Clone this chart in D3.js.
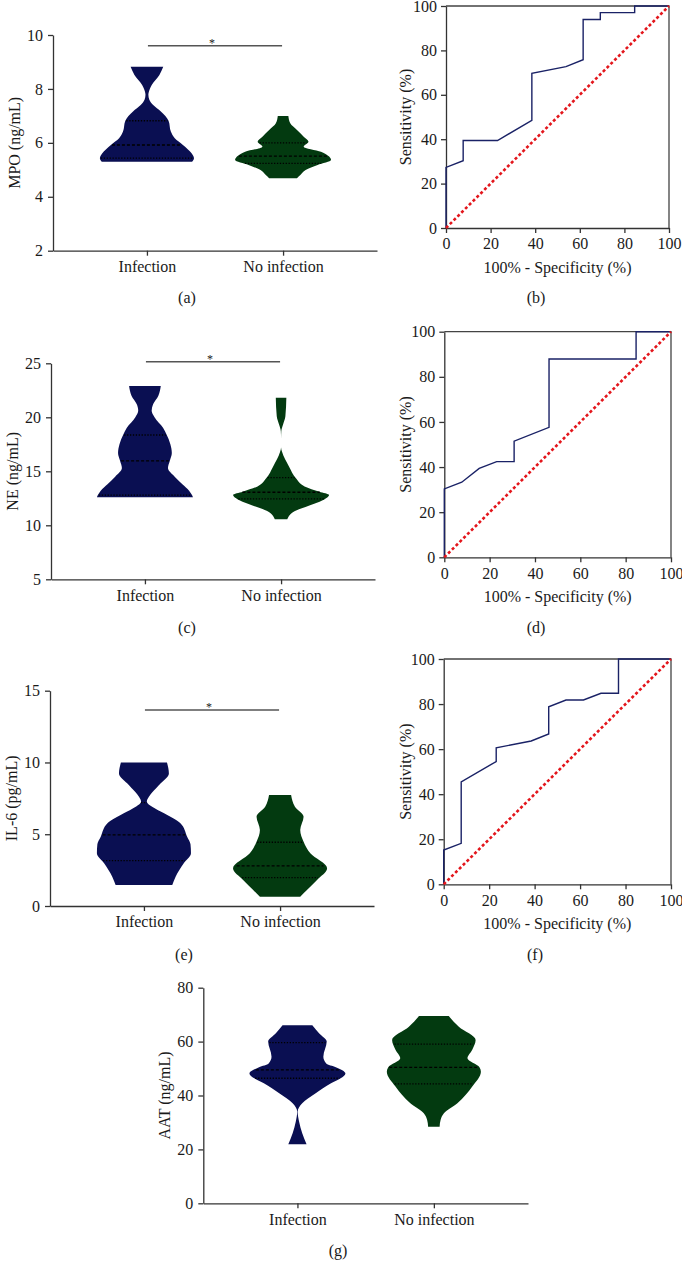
<!DOCTYPE html>
<meta charset="utf-8">
<head>
<script src="https://cdn.jsdelivr.net/npm/d3@7"></script>
</head>
<style>
body { margin: 0; background: #fff; }
svg { display: block; font-family: "Liberation Serif", "DejaVu Serif", serif; }
.tick text { font-size: 16px; fill: #1a1a1a; font-family: "Liberation Serif", "DejaVu Serif", serif; }
.domain, .tick line { stroke: #333; stroke-width: 1.3px; }
.lbl { font-size: 16px; fill: #1a1a1a; }
</style>
<body></body>
<script>
var groups = ["Infection", "No infection"];

// violin profiles: [value, relative width]
var mpoInf = [[5.3,0.94],[5.43,0.98],[5.61,0.93],[5.92,0.75],[6.17,0.58],[6.41,0.5],[6.82,0.45],[7.16,0.29],[7.4,0.13],[7.6,0.05],[7.78,0.03],[8.0,0.06],[8.15,0.1],[8.52,0.26],[8.82,0.34]];
var mpoNo = [[4.69,0.29],[4.81,0.36],[4.99,0.47],[5.18,0.72],[5.36,1.0],[5.49,0.96],[5.67,0.79],[5.86,0.43],[6.04,0.53],[6.23,0.43],[6.48,0.29],[6.73,0.15],[7.0,0.11]];
var mpoQuart = [[5.43,5.92,6.82],[5.24,5.51,6.0]];

var neInf = [[12.6,1.0],[12.8,0.98],[13.2,0.92],[13.8,0.78],[14.5,0.62],[15.3,0.48],[16.0,0.52],[16.7,0.56],[17.5,0.53],[18.4,0.45],[19.0,0.38],[20.0,0.2],[20.6,0.14],[21.2,0.17],[22.0,0.28],[22.9,0.33]];
var neNo = [[10.55,0.13],[11.3,0.28],[12.0,0.69],[12.4,0.9],[12.8,1.0],[13.1,0.8],[13.6,0.49],[14.35,0.31],[15.4,0.17],[16.8,0.02],[17.2,0],[18.0,0],[18.7,0.005],[19.3,0.04],[20.1,0.09],[21.8,0.11]];
var neQuart = [[12.8,15.96,18.36],[12.44,13.06,14.41]];

var il6Inf = [[1.46,0.59],[2.04,0.66],[2.97,0.83],[3.67,0.98],[4.3,0.97],[4.83,0.9],[5.76,0.76],[6.46,0.42],[6.9,0.18],[7.27,0.06],[7.6,0.1],[7.9,0.17],[8.55,0.35],[9.24,0.52],[10.0,0.48]];
var il6No = [[0.65,0.42],[1.12,0.56],[1.81,0.77],[2.63,0.98],[3.67,0.63],[4.48,0.49],[5.3,0.42],[6.22,0.49],[6.92,0.31],[7.73,0.23]];
var il6Quart = [[3.16,4.95,7.2],[1.97,2.79,4.44]];

var aatInf = [[21.9,0.19],[26,0.1],[30.3,0.035],[34,0.005],[37.1,0.1],[40.8,0.38],[44.5,0.7],[46.4,0.9],[48.2,1.0],[50.5,0.8],[51.9,0.6],[54.4,0.54],[60,0.61],[63.1,0.45],[66.1,0.31]];
var aatNo = [[28.4,0.12],[30.9,0.14],[33.4,0.21],[37.1,0.49],[43.3,0.8],[48.8,0.98],[50.5,0.95],[53.8,0.7],[57,0.8],[60.6,0.87],[65.5,0.52],[69.5,0.31]];
var aatQuart = [[46.4,49.5,59.6],[44.3,50.4,59.1]];

// ROC curves: [100% - specificity, sensitivity]
var rocMpo = [[0,0],[0,27.3],[7.7,30.3],[7.7,39.4],[23.1,39.4],[38.5,48.5],[38.5,69.7],[53.8,72.7],[61.5,75.8],[61.5,93.9],[69.2,93.9],[69.2,97],[84.6,97],[84.6,100],[100,100]];
var rocNe = [[0,0],[0,30.3],[7.7,33.3],[15.4,39.4],[23.1,42.4],[30.8,42.4],[30.8,51.5],[46.2,57.6],[46.2,87.9],[84.6,87.9],[84.6,100],[100,100]];
var rocIl6 = [[0,0],[0,15.2],[7.7,18.2],[7.7,45.5],[23.1,54.5],[23.1,60.6],[38.5,63.6],[46.2,66.7],[46.2,78.8],[53.8,81.8],[61.5,81.8],[69.2,84.8],[76.9,84.8],[76.9,100],[100,100]];

var mpoTicks = [2,4,6,8,10];
var neTicks = [5,10,15,20,25];
var il6Ticks = [0,5,10,15];
var aatTicks = [0,20,40,60,80];
var rocTicks = [0,20,40,60,80,100];

var fills = ["#0a0f52", "#033a10"];

var svg = d3.select("body").append("svg")
    .attr("width", 682)
    .attr("height", 1262);
svg.append("rect").attr("width", 682).attr("height", 1262).attr("fill", "#fff");

function caption(t, x, y) {
  svg.append("text").attr("class", "lbl").attr("x", x).attr("y", y)
      .attr("text-anchor", "middle").text(t);
}

function violinPanel(p) {
  var g = svg.append("g");
  var x = d3.scalePoint().domain(groups).range([p.left, p.right]).padding(0.69);
  var y = d3.scaleLinear().domain(p.domain).range([p.bottom, p.top]);
  var w = d3.scaleLinear().domain([0, 1]).range([0, 48]);

  p.data.forEach(function(prof, i) {
    var cx = x(groups[i]);
    var area = d3.area().curve(d3.curveMonotoneY)
        .y(function(d) { return y(d[0]); })
        .x0(function(d) { return cx - w(d[1]); })
        .x1(function(d) { return cx + w(d[1]); });
    g.append("path").attr("d", area(prof)).attr("fill", fills[i]);
    var dens = d3.scaleLinear().domain(prof.map(function(d) { return d[0]; }))
        .range(prof.map(function(d) { return d[1]; }));
    p.quart[i].forEach(function(q, j) {
      var hw = w(dens(q)) - 1;
      g.append("line")
          .attr("x1", cx - hw).attr("x2", cx + hw)
          .attr("y1", y(q)).attr("y2", y(q))
          .attr("stroke", "#000").attr("stroke-width", 1.3)
          .attr("stroke-dasharray", j == 1 ? "3,2" : "1.3,1.6");
    });
  });

  g.append("g").attr("transform", "translate(" + p.left + ",0)")
      .call(d3.axisLeft(y).tickValues(p.ticks).tickSize(5).tickSizeOuter(0).tickPadding(5))
      .attr("font-family", null).attr("font-size", null);
  g.append("g").attr("transform", "translate(0," + p.bottom + ")")
      .call(d3.axisBottom(x).tickSize(5).tickSizeOuter(0).tickPadding(5))
      .attr("font-family", null).attr("font-size", null);

  g.append("text").attr("class", "lbl")
      .attr("transform", "translate(" + p.labelX + "," + (p.top + p.bottom) / 2 + ") rotate(-90)")
      .attr("text-anchor", "middle").text(p.label);

  if (p.sigY) {
    g.append("line").attr("x1", x(groups[0]) + 1).attr("x2", x(groups[1]) - 1)
        .attr("y1", p.sigY).attr("y2", p.sigY)
        .attr("stroke", "#555").attr("stroke-width", 1.5);
    g.append("text").attr("x", (x(groups[0]) + x(groups[1])) / 2 - 3).attr("y", p.sigY + 1)
        .attr("text-anchor", "middle").style("font-size", "12px").attr("fill", "#222").text("*");
  }
}

function rocPanel(p) {
  var g = svg.append("g");
  var x = d3.scaleLinear().domain([0, 100]).range([p.left, p.right]);
  var y = d3.scaleLinear().domain([0, 100]).range([p.bottom, p.top]);

  g.append("path").attr("d", "M" + p.left + "," + p.top + "H" + p.right + "V" + p.bottom)
      .attr("fill", "none").attr("stroke", "#444").attr("stroke-width", 1.3);
  g.append("g").attr("transform", "translate(0," + p.bottom + ")")
      .call(d3.axisBottom(x).tickValues(rocTicks).tickSize(5).tickSizeOuter(0).tickPadding(5))
      .attr("font-family", null).attr("font-size", null);
  g.append("g").attr("transform", "translate(" + p.left + ",0)")
      .call(d3.axisLeft(y).tickValues(rocTicks).tickSize(5).tickSizeOuter(0).tickPadding(4))
      .attr("font-family", null).attr("font-size", null);

  var line = d3.line().x(function(d) { return x(d[0]); }).y(function(d) { return y(d[1]); });
  g.append("path").attr("d", line(p.data))
      .attr("fill", "none").attr("stroke", "#1a2266").attr("stroke-width", 1.4);
  g.append("path").attr("d", line([[0, 0], [100, 100]]))
      .attr("fill", "none").attr("stroke", "#e3161c").attr("stroke-width", 2.6)
      .attr("stroke-dasharray", "3,2.4");

  g.append("text").attr("class", "lbl")
      .attr("x", (p.left + p.right) / 2).attr("y", p.bottom + 45)
      .attr("text-anchor", "middle").text("100% - Specificity (%)");
  g.append("text").attr("class", "lbl")
      .attr("transform", "translate(411," + (p.top + p.bottom) / 2 + ") rotate(-90)")
      .attr("text-anchor", "middle").text("Sensitivity (%)");
}

violinPanel({left: 53, right: 377, top: 35, bottom: 250.7, domain: [2, 10], ticks: mpoTicks,
  label: "MPO (ng/mL)", labelX: 20, data: [mpoInf, mpoNo], quart: mpoQuart, sigY: 45.7});
rocPanel({left: 446, right: 669, top: 6, bottom: 228, data: rocMpo});
caption("(a)", 187, 303);
caption("(b)", 536, 303);

violinPanel({left: 51, right: 375, top: 363.3, bottom: 579.3, domain: [5, 25], ticks: neTicks,
  label: "NE (ng/mL)", labelX: 18, data: [neInf, neNo], quart: neQuart, sigY: 361.7});
rocPanel({left: 444.3, right: 671, top: 331.7, bottom: 557.3, data: rocNe});
caption("(c)", 187, 633);
caption("(d)", 536, 633);

violinPanel({left: 50, right: 374, top: 690.7, bottom: 906, domain: [0, 15], ticks: il6Ticks,
  label: "IL-6 (pg/mL)", labelX: 17, data: [il6Inf, il6No], quart: il6Quart, sigY: 710});
rocPanel({left: 443.7, right: 671, top: 659, bottom: 884.3, data: rocIl6});
caption("(e)", 184, 960);
caption("(f)", 535, 960);

violinPanel({left: 203.3, right: 528, top: 987.7, bottom: 1203.3, domain: [0, 80], ticks: aatTicks,
  label: "AAT (ng/mL)", labelX: 170, data: [aatInf, aatNo], quart: aatQuart});
caption("(g)", 338, 1256);
</script>
